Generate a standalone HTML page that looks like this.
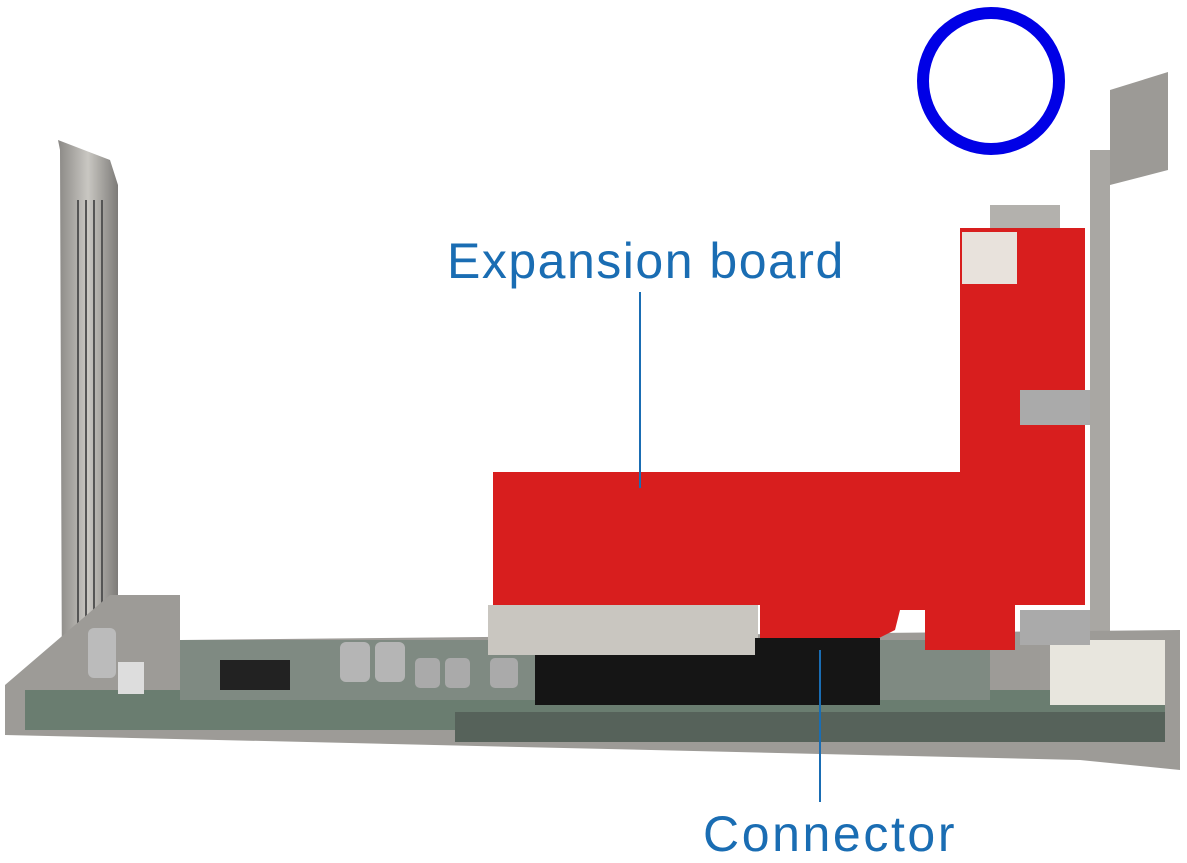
<!DOCTYPE html>
<html><head><meta charset="utf-8"><style>
body{margin:0;width:1187px;height:861px;background:#fff;overflow:hidden;position:relative;font-family:"Liberation Sans",sans-serif}
.t{position:absolute;color:#1a6db3;font-size:50px}
</style></head><body>
<svg width="1187" height="861" style="position:absolute;left:0;top:0">
<defs>
<linearGradient id="m" x1="0" x2="1"><stop offset="0" stop-color="#8a8885"/><stop offset=".5" stop-color="#c9c7c2"/><stop offset="1" stop-color="#7d7b78"/></linearGradient>
</defs>
<polygon points="58,140 110,160 118,185 118,700 62,700 60,150" fill="url(#m)"/>
<g stroke="#555" stroke-width="2">
<line x1="78" y1="200" x2="78" y2="690"/><line x1="86" y1="200" x2="86" y2="690"/><line x1="94" y1="200" x2="94" y2="690"/><line x1="102" y1="200" x2="102" y2="690"/>
</g>
<polygon points="1090,150 1110,150 1110,740 1090,740" fill="#a9a7a3"/>
<polygon points="1110,90 1168,72 1168,170 1110,185" fill="#9c9a96"/>
<polygon points="990,205 1060,205 1060,240 990,240" fill="#b3b1ad"/>
<polygon points="110,595 180,595 180,640 1180,630 1180,770 1080,760 5,735 5,685" fill="#9d9b97"/>
<rect x="25" y="690" width="1140" height="40" fill="#6a7d70"/>
<rect x="455" y="712" width="710" height="30" fill="#56625a"/>
<rect x="180" y="640" width="810" height="60" fill="#7f8a82"/>
<rect x="88" y="628" width="28" height="50" rx="6" fill="#bbb"/>
<rect x="118" y="662" width="26" height="32" fill="#ddd"/>
<rect x="220" y="660" width="70" height="30" fill="#222"/>
<rect x="340" y="642" width="30" height="40" rx="6" fill="#b5b5b5"/>
<rect x="375" y="642" width="30" height="40" rx="6" fill="#b5b5b5"/>
<rect x="415" y="658" width="25" height="30" rx="5" fill="#aaa"/>
<rect x="445" y="658" width="25" height="30" rx="5" fill="#aaa"/>
<rect x="490" y="658" width="28" height="30" rx="5" fill="#aaa"/>
<rect x="1050" y="640" width="115" height="65" fill="#e8e6de"/>
<rect x="488" y="605" width="270" height="50" fill="#c9c6c0"/>
<polygon points="493,472 960,472 960,228 1085,228 1085,605 1015,605 1015,650 925,650 925,610 900,610 895,630 875,640 760,640 760,605 493,605" fill="#d81e1e"/>
<rect x="962" y="232" width="55" height="52" fill="#e8e2dc"/>
<rect x="1020" y="390" width="70" height="35" fill="#aaa"/>
<rect x="1020" y="610" width="70" height="35" fill="#aaa"/>
<rect x="535" y="655" width="345" height="50" fill="#151515"/>
<rect x="755" y="638" width="125" height="20" fill="#151515"/>
<circle cx="991" cy="81" r="68" fill="none" stroke="#0000e6" stroke-width="12"/>
<line x1="640" y1="292" x2="640" y2="488" stroke="#1a6db3" stroke-width="2"/>
<line x1="820" y1="650" x2="820" y2="802" stroke="#1a6db3" stroke-width="2"/>
</svg>
<div class="t" style="left:447px;top:232px;letter-spacing:1.5px">Expansion board</div>
<div class="t" style="left:703px;top:805px;letter-spacing:2.6px">Connector</div>
</body></html>
